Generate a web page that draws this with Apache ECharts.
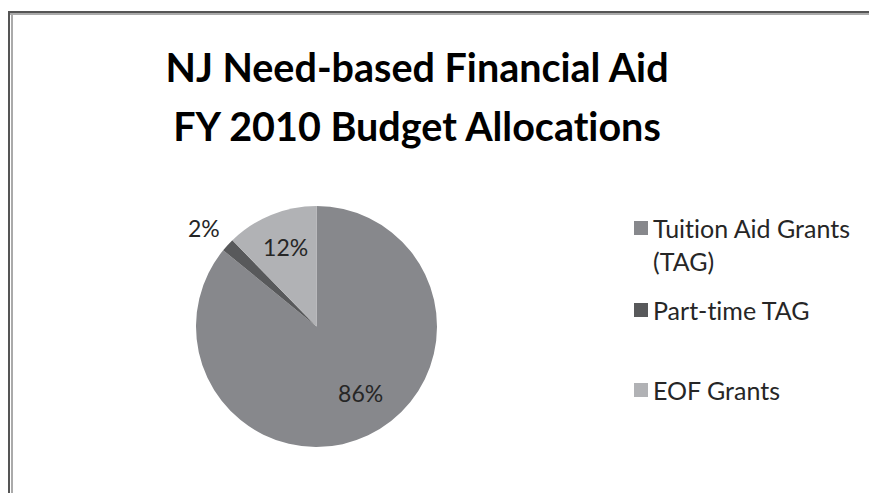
<!DOCTYPE html>
<html>
<head>
<meta charset="utf-8">
<script src="https://cdn.jsdelivr.net/npm/echarts@6/dist/echarts.min.js"></script>
<style>
html,body{margin:0;padding:0;background:#fff;}
#c{width:869px;height:493px;font-variant-ligatures:none;}
#c text{font-variant-ligatures:none;}
</style>
</head>
<body>
<div id="c"></div>
<script>
const titleLines = ['NJ Need-based Financial Aid', 'FY 2010 Budget Allocations'];
const categories = ['Tuition Aid Grants (TAG)', 'Part-time TAG', 'EOF Grants'];
const shares = [85.9, 1.8, 12.3];
const colors = ['#87888c', '#58595b', '#b1b2b5'];
const labelOffsets = [[17, 9], [-66, -56], [-7, -21]];

const chart = echarts.init(document.getElementById('c'), null, {renderer: 'svg'});
const FONT = 'Lato, "Open Sans", sans-serif';
const TXT = '#262626';
const LH = 33;

function legendFor(i, top) {
  return {
    data: [categories[i]],
    left: 634,
    top: top,
    orient: 'vertical',
    padding: 0,
    icon: 'rect',
    itemWidth: 14,
    itemHeight: 14,
    itemGap: 0,
    selectedMode: false,
    formatter: n => (i === 0 ? '\n' : '') + n.replace(' (', '\n('),
    textStyle: {fontFamily: FONT, fontSize: 25, color: TXT, lineHeight: LH}
  };
}

chart.setOption({
  animation: false,
  backgroundColor: '#fff',
  color: colors,
  title: {
    text: titleLines.join('\n'),
    left: 412,
    textAlign: 'center',
    top: 32,
    textStyle: {fontFamily: FONT, fontWeight: 'bold', fontSize: 39.5, lineHeight: 59, color: '#000'}
  },
  legend: [legendFor(0, 228 - 1.5 * LH), legendFor(1, 310 - LH / 2), legendFor(2, 390 - LH / 2)],
  graphic: [
    {type: 'rect', shape: {x: 8, y: 11, width: 861, height: 2}, style: {fill: '#555'}},
    {type: 'rect', shape: {x: 10, y: 13, width: 859, height: 2}, style: {fill: '#aaa'}},
    {type: 'rect', shape: {x: 8, y: 11, width: 2, height: 482}, style: {fill: '#555'}},
    {type: 'rect', shape: {x: 11, y: 13, width: 2, height: 480}, style: {fill: '#aaa'}}
  ],
  series: [{
    type: 'pie',
    center: [316.5, 326.5],
    radius: [0, 120.5],
    startAngle: 90,
    clockwise: true,
    data: categories.map((n, i) => ({name: n, value: shares[i]})),
    label: {
      show: true,
      position: 'inside',
      formatter: p => Math.round(p.percent) + '%',
      fontFamily: FONT,
      fontSize: 23,
      color: TXT
    },
    labelLine: {show: false},
    labelLayout: p => ({dx: labelOffsets[p.dataIndex][0], dy: labelOffsets[p.dataIndex][1]}),
    itemStyle: {borderWidth: 0},
    emphasis: {disabled: true}
  }]
});
</script>
</body>
</html>
